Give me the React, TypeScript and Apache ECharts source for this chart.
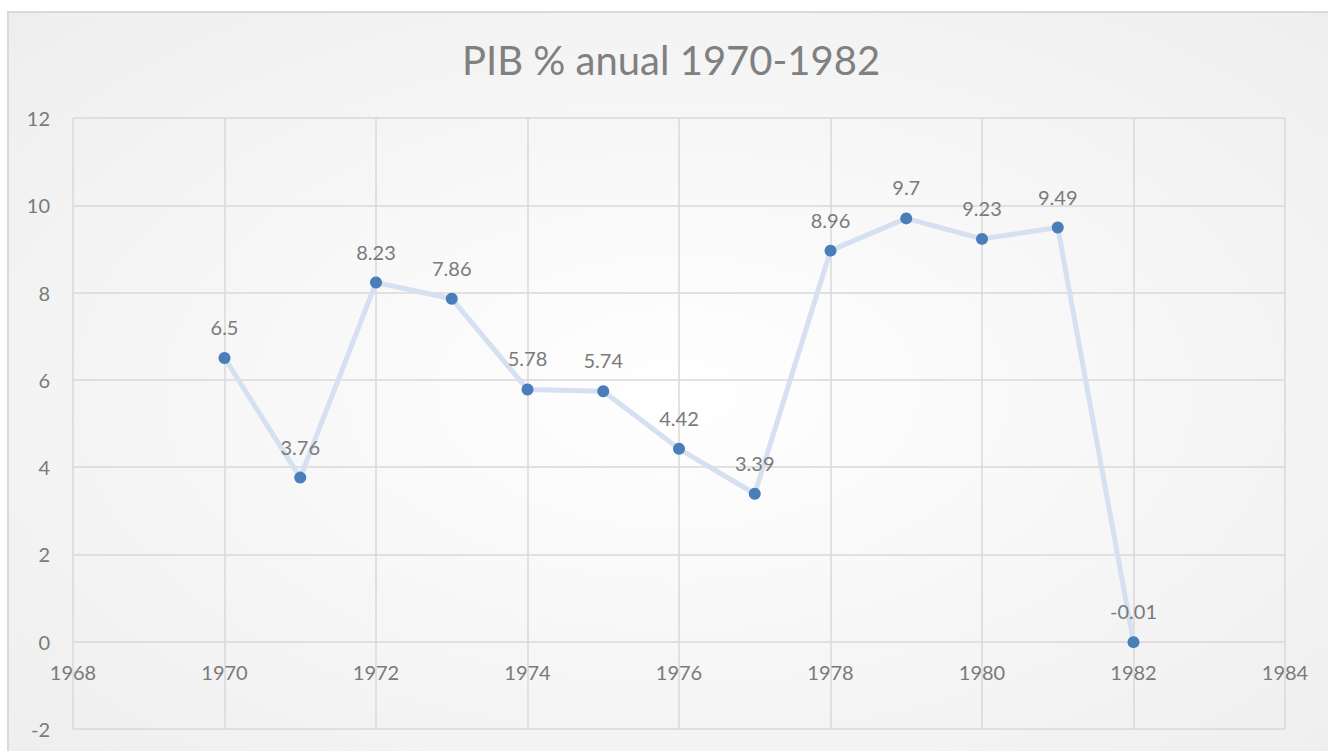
import React, { useEffect, useRef } from "react";
import * as echarts from "echarts";

const years = [1970, 1971, 1972, 1973, 1974, 1975, 1976, 1977, 1978, 1979, 1980, 1981, 1982];
const pib = [6.5, 3.76, 8.23, 7.86, 5.78, 5.74, 4.42, 3.39, 8.96, 9.7, 9.23, 9.49, -0.01];
const titleText = "PIB % anual 1970-1982";

export default function App() {
  const ref = useRef<HTMLDivElement>(null);
  useEffect(() => {
    if (!ref.current) return;
    const chart = echarts.init(ref.current, null, { renderer: "svg" });
    const font = "Lato, 'Open Sans', sans-serif";
    const gridTop = 118;
    const gridH = 611;
    const yMin = -2;
    const yMax = 12;
    const zeroOffset = -(gridH * (0 - yMin)) / (yMax - yMin);
    chart.setOption({
      animation: false,
      backgroundColor: "#ffffff",
      textStyle: { fontFamily: font },
      graphic: [
        {
          type: "rect",
          z: -100,
          shape: { x: 8, y: 12, width: 1340, height: 760 },
          style: {
            fill: new echarts.graphic.RadialGradient(0.5, 0.5, 0.75, [
              { offset: 0, color: "#ffffff" },
              { offset: 1, color: "#ededed" },
            ]),
            stroke: "#d9d9d9",
            lineWidth: 2,
          },
        },
      ],
      title: {
        text: titleText,
        left: 457,
        top: 35,
        textStyle: { fontFamily: font, fontSize: 40, fontWeight: "normal", color: "#808080" },
      },
      grid: {
        left: 73,
        top: gridTop,
        width: 1212,
        height: gridH,
        containLabel: false,
        outerBoundsMode: "none",
      },
      xAxis: {
        type: "value",
        min: 1968,
        max: 1984,
        interval: 2,
        position: "bottom",
        offset: zeroOffset,
        axisLine: { show: false, onZero: false },
        axisTick: { show: false },
        axisLabel: {
          color: "#7a7a7a",
          fontSize: 20,
          margin: 20,
          fontFamily: font,
          formatter: (v: number) => String(v),
        },
        splitLine: { show: true, lineStyle: { color: "#d9d9d9", width: 1.5 } },
      },
      yAxis: {
        type: "value",
        min: yMin,
        max: yMax,
        interval: 2,
        axisLine: { show: false },
        axisTick: { show: false },
        axisLabel: { color: "#7a7a7a", fontSize: 20, margin: 23, fontFamily: font },
        splitLine: { show: true, lineStyle: { color: "#d9d9d9", width: 1.5 } },
      },
      series: [
        {
          type: "line",
          data: years.map((y, i) => [y, pib[i]]),
          symbol: "circle",
          symbolSize: 12,
          itemStyle: { color: "#4a7ebb" },
          lineStyle: { color: "#d5e0f0", width: 5 },
          label: {
            show: true,
            position: "top",
            distance: 15,
            color: "#7a7a7a",
            fontSize: 20,
            fontFamily: font,
            formatter: (p: any) => String(p.value[1]),
          },
        },
      ],
    });
    return () => chart.dispose();
  }, []);
  return (
    <div
      ref={ref}
      style={{ position: "absolute", left: 0, top: 0, width: 1328, height: 751 }}
    />
  );
}
